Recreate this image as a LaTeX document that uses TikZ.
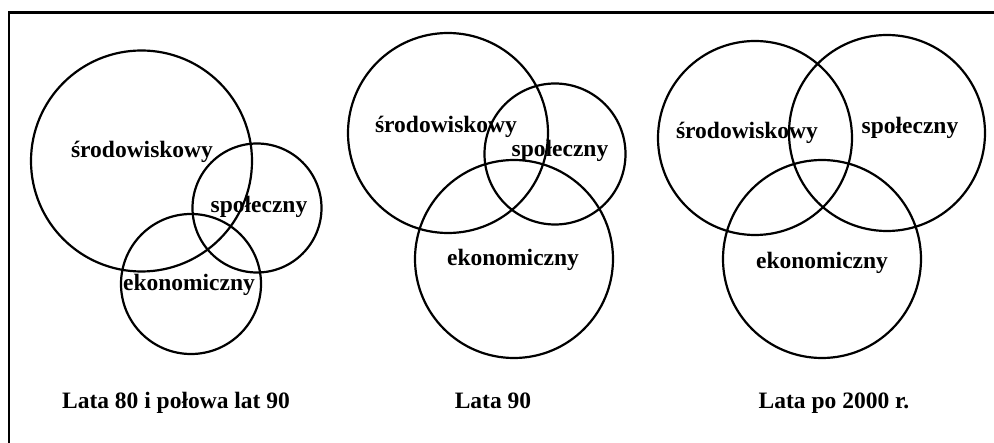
\documentclass[tikz,border=0pt]{standalone}
\usepackage{fontspec}
\setmainfont{Liberation Serif}
\usepackage{tikz}

\tikzset{
    ring/.style={draw, circle, line width=2.2pt, inner sep=0pt},
    word/.style={anchor=base, inner sep=0pt, font=\fontsize{23.5}{28}\selectfont\bfseries}
}

\begin{document}
\begin{tikzpicture}[x=1pt, y=-1pt]
    \useasboundingbox (0,0) rectangle (994,443);

    % Frame (only left and top edges are in view)
    \coordinate (FrameBL) at (9,443);
    \coordinate (FrameTL) at (9,12.5);
    \coordinate (FrameTR) at (994,12.5);
    \draw[line width=2.5pt] (FrameBL) -- (FrameTL) -- (FrameTR);

    % Lata 80 i polowa lat 90
    \node[ring, minimum size=221pt] (EnvA) at (141.5,161) {};
    \node[ring, minimum size=129pt] (SocA) at (257,208) {};
    \node[ring, minimum size=140pt] (EcoA) at (191,284) {};
    \node[word] (EnvTextA) at (142,158) {środowiskowy};
    \node[word] (SocTextA) at (259,213) {społeczny};
    \node[word] (EcoTextA) at (189,291) {ekonomiczny};
    \node[word] (TitleA) at (176,409) {Lata 80 i połowa lat 90};

    % Lata 90
    \node[ring, minimum size=200pt] (EnvB) at (448,133) {};
    \node[ring, minimum size=141pt] (SocB) at (555,154) {};
    \node[ring, minimum size=198pt] (EcoB) at (514,259) {};
    \node[word] (EnvTextB) at (446,133) {środowiskowy};
    \node[word] (SocTextB) at (560,157) {społeczny};
    \node[word] (EcoTextB) at (513,266) {ekonomiczny};
    \node[word] (TitleB) at (493,409) {Lata 90};

    % Lata po 2000 r.
    \node[ring, minimum size=194pt] (EnvC) at (755,138) {};
    \node[ring, minimum size=196pt] (SocC) at (887,133) {};
    \node[ring, minimum size=198pt] (EcoC) at (822,259) {};
    \node[word] (EnvTextC) at (747,139) {środowiskowy};
    \node[word] (SocTextC) at (910,134) {społeczny};
    \node[word] (EcoTextC) at (822,269) {ekonomiczny};
    \node[word] (TitleC) at (834,409) {Lata po 2000 r.};
\end{tikzpicture}
\end{document}
